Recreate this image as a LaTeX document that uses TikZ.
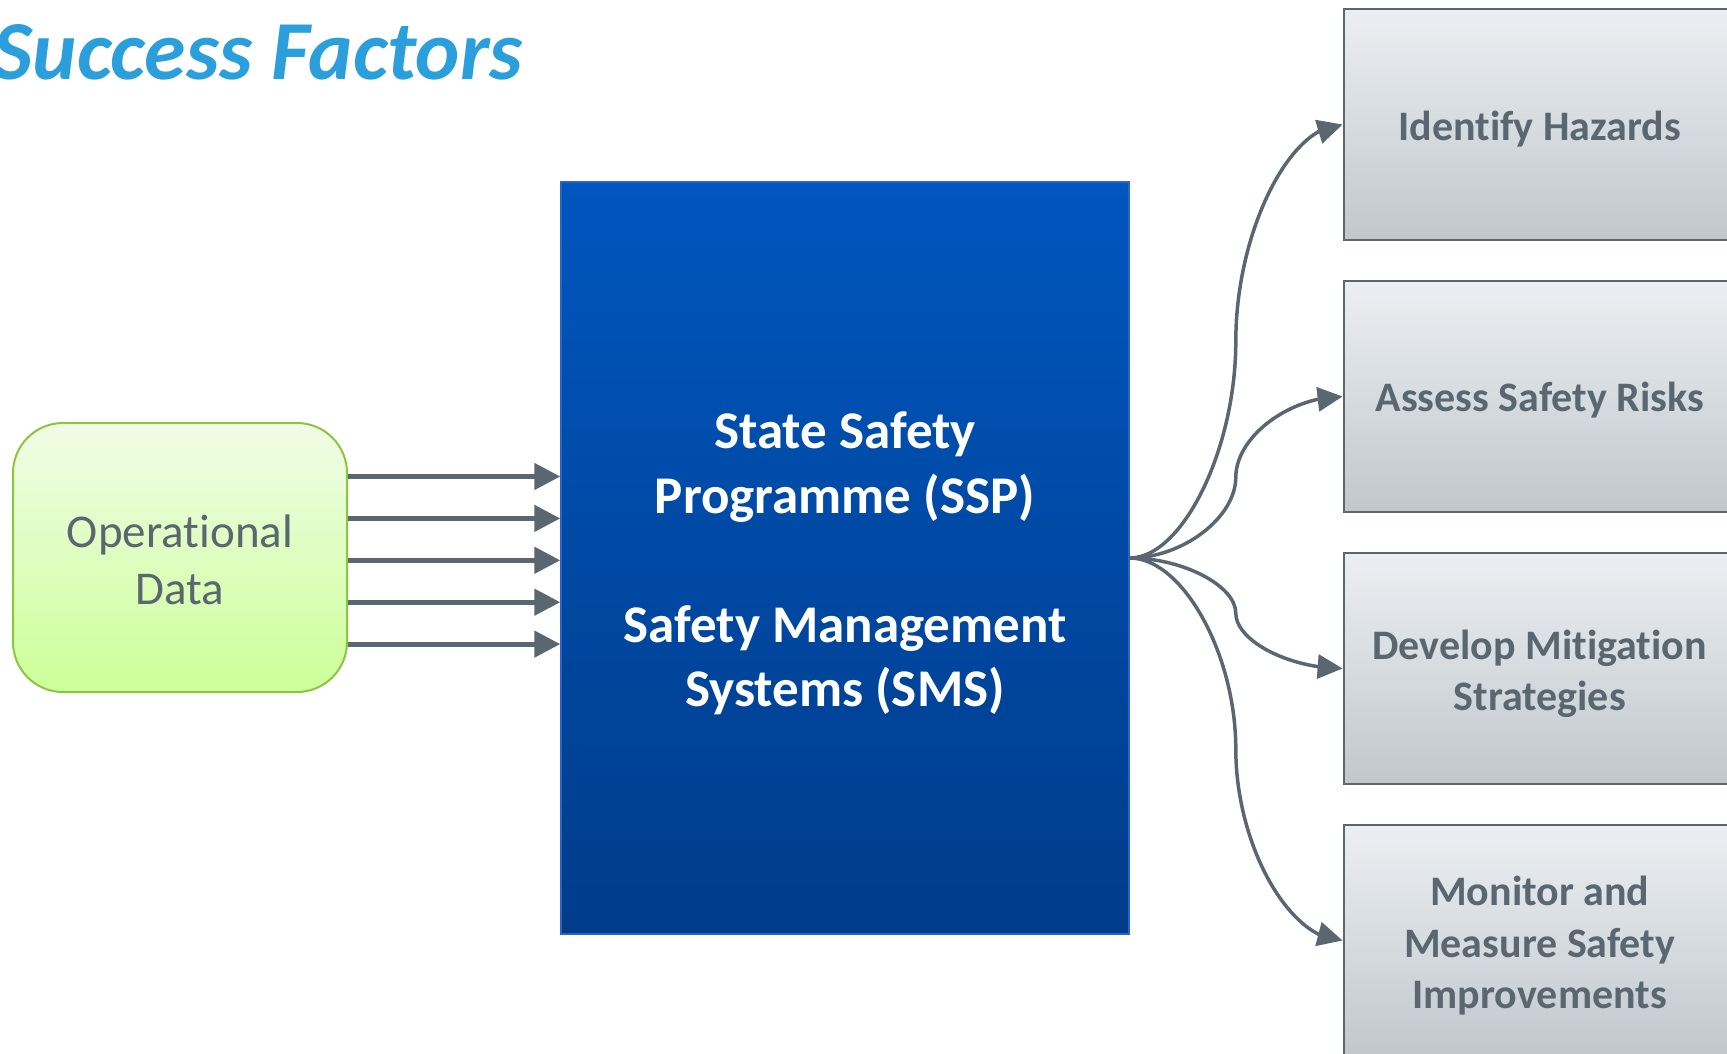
\documentclass[tikz,border=0pt]{standalone}
\usepackage{fontspec}
\setmainfont{Carlito}[Ligatures=NoCommon]
\usetikzlibrary{arrows.meta,bending}
\definecolor{slate}{HTML}{5B6770}
\definecolor{titleblue}{HTML}{2B9FDB}
\definecolor{ssptop}{HTML}{0056BE}
\definecolor{sspbot}{HTML}{003C8A}
\definecolor{sspline}{HTML}{2A64C4}
\definecolor{optop}{HTML}{F0FCE6}
\definecolor{opbot}{HTML}{CCFF99}
\definecolor{opline}{HTML}{8CC63F}
\definecolor{boxtop}{HTML}{ECEFF2}
\definecolor{boxbot}{HTML}{C0C8CE}
\begin{document}
\begin{tikzpicture}[x=1pt,y=-1pt,
  opbox/.style={draw=opline, line width=2pt, rounded corners=50pt,
    top color=optop, bottom color=opbot, minimum width=334pt, minimum height=269pt,
    inner sep=0pt},
  optext/.style={inner sep=0pt, align=center, text=slate, font=\fontsize{47}{57.5}\selectfont},
  sspbox/.style={draw=sspline, line width=1.5pt, top color=ssptop, bottom color=sspbot,
    minimum width=568pt, minimum height=752pt, inner sep=0pt},
  ssptext/.style={inner sep=0pt, align=center, text=white, font=\fontsize{53}{64.5}\selectfont\bfseries},
  stagebox/.style={draw=slate, line width=2.2pt, top color=boxtop, bottom color=boxbot,
    minimum width=392pt, minimum height=231pt, inner sep=0pt, anchor=west},
  stagetext/.style={inner sep=0pt, align=center, text=slate, font=\fontsize{42}{51.5}\selectfont\bfseries},
  flow/.style={draw=slate, line width=5pt, -{Triangle[length=26pt,width=26pt]}},
  branch/.style={draw=slate, line width=3.5pt, -{Triangle[length=25pt,width=24pt]}}
]
\useasboundingbox (0,0) rectangle (1727,1054);
\clip (0,0) rectangle (1727,1054);

\node[anchor=base east, text=titleblue, inner sep=0pt,
  font=\fontsize{84}{100}\selectfont\bfseries\itshape] (title) at (523,80) {Success Factors};

\node[opbox] (op) at (180,557.5) {};
\node[optext] (opt) at ([yshift=-2.5pt]op.center) {Operational\\Data};
\node[sspbox] (ssp) at (845,558) {};
\node[ssptext] (sspt) at ([yshift=-5.5pt]ssp.center) {State Safety\\Programme (SSP)\\[64.5pt]Safety Management\\Systems (SMS)};

\node[stagebox] (b1) at (1342.6,124.5) {};
\node[stagebox] (b2) at (1342.6,396.5) {};
\node[stagebox] (b3) at (1342.6,668.5) {};
\node[stagebox] (b4) at (1342.6,940.5) {};
\node[stagetext] (t1) at ([yshift=-4.5pt]b1.center) {Identify Hazards};
\node[stagetext] (t2) at ([yshift=-4pt]b2.center) {Assess Safety Risks};
\node[stagetext] (t3) at ([yshift=-5.5pt]b3.center) {Develop Mitigation\\Strategies};
\node[stagetext] (t4) at ([yshift=-5.5pt]b4.center) {Monitor and\\Measure Safety\\Improvements};

\foreach \yy in {476.5,518.4,560.3,602.2,644.1}{
  \draw[flow] (op.east |- 0,\yy) -- (ssp.west |- 0,\yy);
}

\draw[branch] (ssp.east) .. controls (1182.4,558) and (1235.8,449.6) .. (1235.8,341.2)
  .. controls (1235.8,232.8) and (1289.2,124.5) .. (b1.west);
\draw[branch] (ssp.east) .. controls (1182.4,558) and (1235.8,517.6) .. (1235.8,477.25)
  .. controls (1235.8,436.9) and (1289.2,396.5) .. (b2.west);
\draw[branch] (ssp.east) .. controls (1182.4,558) and (1235.8,585.6) .. (1235.8,613.25)
  .. controls (1235.8,640.9) and (1289.2,668.5) .. (b3.west);
\draw[branch] (ssp.east) .. controls (1182.4,558) and (1235.8,653.6) .. (1235.8,749.25)
  .. controls (1235.8,844.9) and (1289.2,940.5) .. (b4.west);
\end{tikzpicture}
\end{document}
